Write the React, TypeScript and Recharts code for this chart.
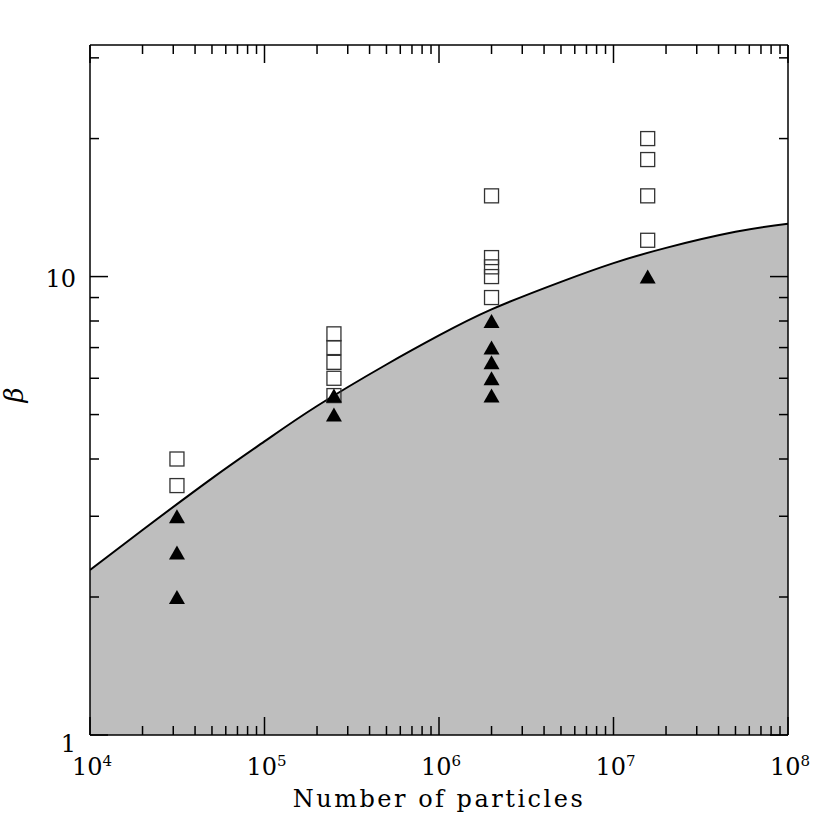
import { ComposedChart, Area, Scatter, XAxis, YAxis } from 'recharts'

// curve (N, beta)
const curveN = [1e4, 2e4, 5e4, 1e5, 2e5, 5e5, 1e6, 2e6, 5e6, 1e7, 2e7, 5e7, 1e8]
const curveBeta = [2.29, 2.8, 3.63, 4.37, 5.22, 6.43, 7.44, 8.48, 9.74, 10.7, 11.55, 12.52, 13.04]

// simulation runs
const runN = [3.15e4, 2.5e5, 2e6, 1.57e7]
const openBeta = [[4, 3.5], [7.5, 7, 6.5, 6, 5.5], [15, 11, 10.5, 10, 9], [20, 18, 15, 12]]
const filledBeta = [[3, 2.5, 2], [5.5, 5], [8, 7, 6.5, 6, 5.5], [10]]

const xDecades = [1e4, 1e5, 1e6, 1e7]
const xTicks = [...xDecades.flatMap((d) => [1, 2, 3, 4, 5, 6, 7, 8, 9].map((m) => m * d)), 1e8]
const yTicks = [1, 2, 3, 4, 5, 6, 7, 8, 9, 10, 20, 30]
const yLabels: Record<number, string> = { 1: '1', 10: '10' }

const curve = curveN.map((n, i) => ({ n, b: curveBeta[i] }))
const openPts = runN.flatMap((n, i) => openBeta[i].map((b) => ({ n, b })))
const filledPts = runN.flatMap((n, i) => filledBeta[i].map((b) => ({ n, b })))

const FONT = 'DejaVu Serif'
const isPow10 = (v: number) => Math.abs(Math.log10(v) - Math.round(Math.log10(v))) < 1e-6

const XTick = ({ x, y, payload, side }: any) => {
  const v = payload.value
  const major = isPow10(v)
  const len = major ? 18 : 9
  const dir = side === 'bottom' ? -1 : 1
  return (
    <g>
      <line x1={x} y1={y} x2={x} y2={y + dir * len} stroke="#000" strokeWidth={1.5} />
      {side === 'bottom' && major && (
        <text x={x + 2} y={y + 40} textAnchor="middle" fontFamily={FONT} fontSize={24} fill="#000">
          10<tspan dy={-9} fontSize={15}>{Math.round(Math.log10(v))}</tspan>
        </text>
      )}
    </g>
  )
}

const YTick = ({ x, y, payload, side }: any) => {
  const v = payload.value
  const major = v === 1 || v === 10
  const len = major ? 18 : 9
  const dir = side === 'left' ? 1 : -1
  return (
    <g>
      <line x1={x} y1={y} x2={x + dir * len} y2={y} stroke="#000" strokeWidth={1.5} />
      {side === 'left' && yLabels[v] && (
        <text x={x - 14} y={y + (v === 1 ? 17 : 10)} textAnchor="end" fontFamily={FONT} fontSize={24} fill="#000">
          {yLabels[v]}
        </text>
      )}
    </g>
  )
}

const OpenSquare = (p: any) => (
  <rect x={p.cx - 7} y={p.cy - 7} width={14} height={14} fill="none" stroke="#333" strokeWidth={1.3} />
)
const FilledTri = (p: any) => (
  <path d={`M${p.cx},${p.cy - 7}L${p.cx + 8},${p.cy + 7}L${p.cx - 8},${p.cy + 7}Z`} fill="#000" />
)

export default function App() {
  const axisLine = { stroke: '#000', strokeWidth: 1.5 }
  return (
    <div style={{ position: 'absolute', left: 0, top: 0, width: 830, height: 830 }}>
      <ComposedChart width={830} height={830} data={curve} margin={{ top: 44, right: 41, bottom: 94, left: 89 }}>
        <XAxis xAxisId="x" dataKey="n" type="number" scale="log" domain={[1e4, 1e8]} allowDataOverflow
          ticks={xTicks} interval={0} height={1} tickSize={0} tickMargin={0} tickLine={false} axisLine={axisLine}
          tick={(p: any) => <XTick {...p} side="bottom" />} />
        <XAxis xAxisId="xt" orientation="top" dataKey="n" type="number" scale="log" domain={[1e4, 1e8]} allowDataOverflow
          ticks={xTicks} interval={0} height={1} tickSize={0} tickMargin={0} tickLine={false} axisLine={axisLine}
          tick={(p: any) => <XTick {...p} side="top" />} />
        <YAxis yAxisId="y" dataKey="b" type="number" scale="log" domain={[1, 32]} allowDataOverflow
          ticks={yTicks} interval={0} width={1} tickSize={0} tickMargin={0} tickLine={false} axisLine={axisLine}
          tick={(p: any) => <YTick {...p} side="left" />} />
        <YAxis yAxisId="yr" orientation="right" dataKey="b" type="number" scale="log" domain={[1, 32]} allowDataOverflow
          ticks={yTicks} interval={0} width={1} tickSize={0} tickMargin={0} tickLine={false} axisLine={axisLine}
          tick={(p: any) => <YTick {...p} side="right" />} />
        <Area xAxisId="x" yAxisId="y" dataKey="b" type="natural" baseValue="dataMin" stroke="#000" strokeWidth={2}
          fill="#bebebe" fillOpacity={1} dot={false} activeDot={false} isAnimationActive={false} />
        <Scatter xAxisId="x" yAxisId="y" data={openPts} shape={OpenSquare} isAnimationActive={false} />
        <Scatter xAxisId="x" yAxisId="y" data={filledPts} shape={FilledTri} isAnimationActive={false} />
      </ComposedChart>
      <svg width={830} height={830} style={{ position: 'absolute', left: 0, top: 0, pointerEvents: 'none' }}>
        <text x={439} y={807} textAnchor="middle" fontFamily={FONT} fontSize={24} letterSpacing={2.5} fill="#000">
          Number of particles
        </text>
        <text x={0} y={0} transform="translate(23,395) rotate(-90)" textAnchor="middle" fontFamily={FONT}
          fontStyle="italic" fontSize={26} fill="#000">β</text>
      </svg>
    </div>
  )
}
